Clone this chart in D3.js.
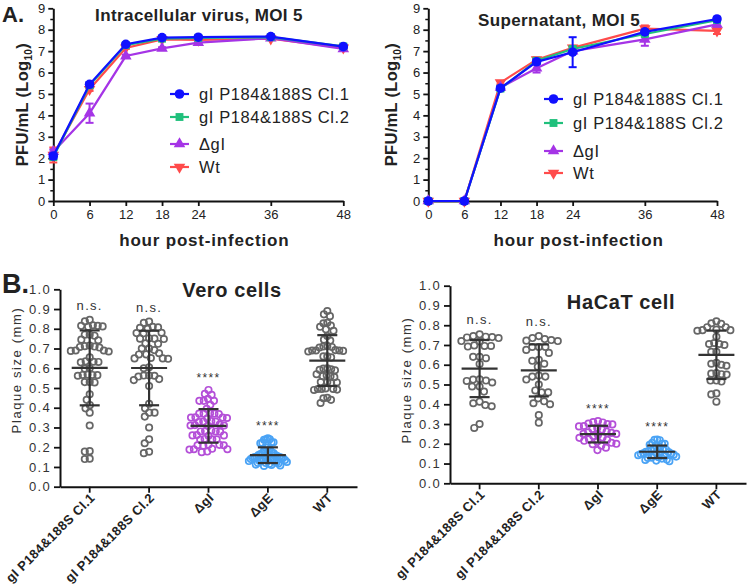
<!DOCTYPE html>
<html><head><meta charset="utf-8">
<script src="https://cdn.jsdelivr.net/npm/d3@7"></script>
<style>body{margin:0;background:#fff}svg{display:block;font-family:"Liberation Sans",Arial,sans-serif}</style>
</head><body><svg id="c" width="750" height="586"></svg>
<script>
// ---------- DATA ----------
const hours = [0, 6, 12, 18, 24, 36, 48];
const hourTicks = [0, 6, 12, 18, 24, 36, 48];
const logTicks = [0, 1, 2, 3, 4, 5, 6, 7, 8, 9];
const seriesNames = ["gI P184&188S Cl.1", "gI P184&188S Cl.2", "\u0394gI", "Wt"];

// Intracellular virus, MOI 5 (log10 PFU/mL)
const intraCl1 = [2.10, 5.45, 7.32, 7.63, 7.65, 7.68, 7.21];
const intraCl2 = [2.05, 5.40, 7.28, 7.58, 7.62, 7.65, 7.22];
const intraDgI = [2.30, 4.10, 6.77, 7.13, 7.40, 7.60, 7.10];
const intraWt  = [2.15, 5.22, 7.15, 7.55, 7.52, 7.58, 7.15];
const intraErrCl1 = [0.12, 0.10, 0.06, 0.05, 0.05, 0.05, 0.06];
const intraErrCl2 = [0.10, 0.08, 0.05, 0.05, 0.05, 0.05, 0.06];
const intraErrDgI = [0.10, 0.45, 0.06, 0.05, 0.05, 0.05, 0.06];
const intraErrWt  = [0.35, 0.08, 0.05, 0.05, 0.05, 0.05, 0.06];

// Supernatant, MOI 5
const supCl1 = [0, 0, 5.27, 6.50, 6.95, 7.90, 8.50];
const supCl2 = [0, 0, 5.25, 6.55, 7.10, 7.80, 8.45];
const supDgI = [0, 0, 5.30, 6.20, 7.00, 7.55, 8.25];
const supWt  = [0, 0, 5.53, 6.60, 7.15, 8.05, 7.95];
const supErrCl1 = [0, 0, 0.08, 0.10, 0.70, 0.10, 0.08];
const supErrCl2 = [0, 0, 0.08, 0.10, 0.10, 0.10, 0.08];
const supErrDgI = [0, 0, 0.08, 0.20, 0.10, 0.30, 0.10];
const supErrWt  = [0, 0, 0.08, 0.10, 0.10, 0.15, 0.15];

// Plaque sizes (mm)
const plaqueCats = ["gI P184&188S Cl.1", "gI P184&188S Cl.2", "\u0394gI", "\u0394gE", "WT"];
const plaqueTicks = [0, 0.1, 0.2, 0.3, 0.4, 0.5, 0.6, 0.7, 0.8, 0.9, 1.0];
const signif = ["n.s.", "n.s.", "****", "****", ""];

const veroCl1 = [0.845,0.838,0.815,0.815,0.812,0.818,0.81,0.77,0.77,0.765,0.745,0.742,0.712,0.71,0.715,0.708,0.705,0.69,0.688,0.685,0.69,0.655,0.633,0.63,0.635,0.632,0.60,0.598,0.566,0.565,0.568,0.562,0.566,0.53,0.53,0.528,0.468,0.44,0.413,0.397,0.375,0.31,0.18,0.178,0.14,0.142];
const veroCl2 = [0.836,0.83,0.81,0.805,0.80,0.807,0.777,0.778,0.78,0.75,0.752,0.748,0.75,0.726,0.724,0.70,0.70,0.692,0.676,0.67,0.67,0.65,0.652,0.648,0.65,0.60,0.605,0.563,0.562,0.558,0.563,0.54,0.545,0.51,0.42,0.397,0.375,0.375,0.355,0.30,0.24,0.22,0.177,0.17];
const veroDgI = [0.49,0.47,0.465,0.445,0.435,0.435,0.435,0.415,0.395,0.37,0.37,0.37,0.372,0.368,0.35,0.352,0.348,0.35,0.345,0.33,0.332,0.328,0.33,0.31,0.312,0.308,0.31,0.315,0.28,0.282,0.278,0.28,0.285,0.26,0.262,0.258,0.26,0.24,0.242,0.238,0.24,0.21,0.212,0.208,0.21,0.212,0.19,0.192,0.188,0.19,0.175,0.178];
const veroDgE = [0.245,0.24,0.24,0.238,0.225,0.225,0.222,0.22,0.2,0.198,0.19,0.185,0.175,0.17,0.17,0.168,0.165,0.16,0.16,0.158,0.155,0.155,0.152,0.15,0.15,0.148,0.145,0.145,0.143,0.14,0.14,0.138,0.135,0.135,0.132,0.13,0.13,0.128,0.125,0.122,0.12,0.12,0.118,0.115,0.112,0.11,0.108,0.105];
const veroWT  = [0.89,0.873,0.864,0.83,0.828,0.816,0.81,0.797,0.79,0.763,0.745,0.74,0.71,0.712,0.705,0.708,0.69,0.69,0.688,0.692,0.685,0.69,0.66,0.655,0.66,0.6,0.598,0.59,0.592,0.595,0.57,0.56,0.565,0.555,0.56,0.53,0.525,0.53,0.528,0.495,0.495,0.49,0.492,0.495,0.498,0.448,0.424,0.44,0.45];

const hacatCl1 = [0.754,0.745,0.74,0.738,0.742,0.735,0.72,0.718,0.695,0.695,0.692,0.698,0.633,0.64,0.64,0.604,0.526,0.518,0.52,0.51,0.525,0.49,0.464,0.49,0.413,0.396,0.39,0.405,0.28,0.3];
const hacatCl2 = [0.745,0.735,0.725,0.72,0.722,0.73,0.69,0.675,0.66,0.69,0.69,0.62,0.59,0.605,0.625,0.54,0.525,0.5,0.54,0.545,0.47,0.46,0.46,0.43,0.405,0.4,0.415,0.307,0.345];
const hacatDgI = [0.315,0.31,0.308,0.302,0.3,0.298,0.29,0.288,0.28,0.275,0.272,0.262,0.258,0.255,0.25,0.25,0.245,0.24,0.232,0.23,0.222,0.22,0.215,0.21,0.205,0.2,0.198,0.19,0.18,0.168];
const hacatDgE = [0.222,0.22,0.218,0.205,0.2,0.2,0.195,0.19,0.178,0.175,0.17,0.168,0.165,0.162,0.16,0.158,0.155,0.155,0.152,0.15,0.148,0.145,0.142,0.14,0.138,0.135,0.132,0.13,0.128,0.125,0.12,0.118,0.115,0.112];
const hacatWT  = [0.82,0.81,0.807,0.79,0.79,0.775,0.775,0.772,0.778,0.742,0.705,0.705,0.7,0.71,0.665,0.665,0.6,0.595,0.605,0.61,0.555,0.55,0.558,0.552,0.52,0.52,0.515,0.45,0.455,0.413];

// ---------- STYLE ----------
const lineColors = ["#1010ff", "#20c07c", "#a534e6", "#ff4b4b"];
const lineSymbols = [d3.symbolCircle, d3.symbolSquare, d3.symbolTriangle, d3.symbolTriangle];
const symSizes = [72, 62, 58, 58];
const symRot = [0, 0, 0, 180];
const dotColors = ["#666666", "#666666", "#b44fd8", "#4aa3f5", "#666666"];
const barColor = "#333333";

const svg = d3.select("#c");

// ---------- LINE PANELS ----------
function linePanel(o) {
  const g = svg.append("g");
  const x = d3.scaleLinear().domain([0, 48]).range([o.x0, o.x1]);
  const y = d3.scaleLinear().domain([0, 9]).range([o.yB, o.yT]);
  // minor ticks on y
  g.append("g").attr("transform", `translate(${o.x0},0)`)
    .call(d3.axisLeft(y).tickValues(d3.range(0.5, 9, 1)).tickSize(3).tickFormat(""))
    .call(a => a.select(".domain").remove())
    .selectAll("line").attr("stroke", "#111").attr("stroke-width", 1.5);
  const ya = g.append("g").attr("transform", `translate(${o.x0},0)`)
    .call(d3.axisLeft(y).tickValues(logTicks).tickSize(5).tickPadding(3).tickSizeOuter(0));
  const xa = g.append("g").attr("transform", `translate(0,${o.yB})`)
    .call(d3.axisBottom(x).tickValues(hourTicks).tickSize(5).tickPadding(4).tickSizeOuter(0));
  [ya, xa].forEach(a => {
    a.select(".domain").attr("stroke", "#111").attr("stroke-width", 2);
    a.selectAll(".tick line").attr("stroke", "#111").attr("stroke-width", 1.8);
    a.selectAll("text").attr("font-size", 13).attr("fill", "#222")
      .attr("font-family", "'Liberation Sans',Arial,sans-serif");
  });
  const order = [3, 2, 1, 0];
  const line = d3.line().x((d, i) => x(hours[i])).y(d => y(d));
  order.forEach(s => {
    const vals = o.data[s], err = o.err[s], c = lineColors[s];
    const sg = g.append("g");
    sg.append("path").attr("d", line(vals)).attr("fill", "none").attr("stroke", c).attr("stroke-width", 2.2);
    vals.forEach((v, i) => {
      const e = err[i];
      if (e > 0) {
        const cx = x(hours[i]);
        sg.append("line").attr("x1", cx).attr("x2", cx).attr("y1", y(v - e)).attr("y2", y(v + e)).attr("stroke", c).attr("stroke-width", 2);
        [v - e, v + e].forEach(t => sg.append("line").attr("x1", cx - 4).attr("x2", cx + 4).attr("y1", y(t)).attr("y2", y(t)).attr("stroke", c).attr("stroke-width", 2));
      }
      sg.append("path").attr("d", d3.symbol(lineSymbols[s], symSizes[s])())
        .attr("transform", `translate(${x(hours[i])},${y(v)}) rotate(${symRot[s]})`).attr("fill", c);
    });
  });
  // legend
  seriesNames.forEach((n, s) => {
    const ly = o.legY[s];
    g.append("line").attr("x1", o.legX).attr("x2", o.legX + 19).attr("y1", ly).attr("y2", ly).attr("stroke", lineColors[s]).attr("stroke-width", 2.2);
    g.append("path").attr("d", d3.symbol(lineSymbols[s], symSizes[s])())
      .attr("transform", `translate(${o.legX + 9.5},${ly}) rotate(${symRot[s]})`).attr("fill", lineColors[s]);
    g.append("text").attr("x", o.legX + 29).attr("y", ly + 6).text(n)
      .attr("font-size", 16.5).attr("letter-spacing", 0.6).attr("fill", "#222");
  });
  g.append("text").attr("x", o.titleX).attr("y", o.titleY).attr("text-anchor", "middle")
    .attr("font-size", 17).attr("font-weight", "bold").attr("letter-spacing", 0.4).attr("fill", "#222").text(o.title);
  g.append("text").attr("x", (o.x0 + o.x1) / 2 + 6).attr("y", 246).attr("text-anchor", "middle")
    .attr("font-size", 17).attr("font-weight", "bold").attr("letter-spacing", 0.8).attr("fill", "#222").text("hour post-infection");
  const yl = g.append("text").attr("transform", `translate(${o.ylabX},${(o.yT + o.yB) / 2}) rotate(-90)`)
    .attr("text-anchor", "middle").attr("font-size", 16.5).attr("font-weight", "bold").attr("fill", "#222").attr("letter-spacing", 0.3);
  yl.append("tspan").text("PFU/mL (Log");
  yl.append("tspan").attr("font-size", 10).attr("dy", 4).text("10");
  yl.append("tspan").attr("dy", -4).text(")");
}

linePanel({x0: 53.3, x1: 343.3, yT: 8.3, yB: 201, data: [intraCl1, intraCl2, intraDgI, intraWt],
  err: [intraErrCl1, intraErrCl2, intraErrDgI, intraErrWt], title: "Intracellular virus, MOI 5",
  titleX: 199, titleY: 21, legX: 170, legY: [94, 117, 144, 167], ylabX: 28});
linePanel({x0: 428.3, x1: 717, yT: 8.3, yB: 201, data: [supCl1, supCl2, supDgI, supWt],
  err: [supErrCl1, supErrCl2, supErrDgI, supErrWt], title: "Supernatant, MOI 5",
  titleX: 559, titleY: 26, legX: 544, legY: [99, 123, 151, 173], ylabX: 397});

svg.append("text").attr("x", 2).attr("y", 22).attr("font-size", 22).attr("font-weight", "bold").attr("fill", "#222").text("A.");
svg.append("text").attr("x", 2).attr("y", 293).attr("font-size", 27).attr("font-weight", "bold").attr("fill", "#222").text("B.");

// ---------- DOT PANELS ----------
function beeswarm(ys, D) {
  const idx = ys.map((v, i) => i).sort((a, b) => ys[a] - ys[b]);
  const placed = [];
  const xs = new Array(ys.length).fill(0);
  idx.forEach(i => {
    const yi = ys[i];
    const near = placed.filter(p => Math.abs(p.y - yi) < D);
    const cands = [0];
    near.forEach(p => { const dx = Math.sqrt(D * D - (p.y - yi) ** 2); cands.push(p.x + dx, p.x - dx); });
    cands.sort((a, b) => Math.abs(a) - Math.abs(b) || a - b);
    let xx = cands[0];
    for (const c of cands) {
      if (near.every(p => (p.x - c) ** 2 + (p.y - yi) ** 2 >= D * D - 0.01)) { xx = c; break; }
    }
    xs[i] = xx; placed.push({x: xx, y: yi});
  });
  return xs;
}

function dotPanel(o) {
  const g = svg.append("g");
  const x = d3.scaleBand().domain(plaqueCats).range([o.x0, o.x1]).padding(0);
  const y = d3.scaleLinear().domain([0, 1]).range([o.yB, o.yT]);
  const ya = g.append("g").attr("transform", `translate(${o.x0},0)`)
    .call(d3.axisLeft(y).tickValues(plaqueTicks).tickFormat(d3.format(".1f")).tickSize(6).tickPadding(3).tickSizeOuter(0));
  const xa = g.append("g").attr("transform", `translate(0,${o.yB})`)
    .call(d3.axisBottom(x).tickSize(6).tickSizeOuter(0).tickFormat(""));
  [ya, xa].forEach(a => {
    a.select(".domain").attr("stroke", "#111").attr("stroke-width", 2);
    a.selectAll(".tick line").attr("stroke", "#111").attr("stroke-width", 1.8);
  });
  ya.selectAll("text").attr("font-size", 13).attr("letter-spacing", 1.3).attr("fill", "#333")
    .attr("font-family", "'Liberation Sans',Arial,sans-serif");
  // category labels
  plaqueCats.forEach(c => {
    const cx = x(c) + x.bandwidth() / 2;
    g.append("text").attr("transform", `translate(${cx + 6},${o.yB + 12}) rotate(-45)`)
      .attr("text-anchor", "end").attr("font-size", 13).attr("font-weight", "bold").attr("letter-spacing", 0.4)
      .attr("fill", "#222").text(c);
  });
  o.data.forEach((vals, k) => {
    const cx = x(plaqueCats[k]) + x.bandwidth() / 2;
    const ys = vals.map(v => y(v));
    let xs = beeswarm(ys, 7.0);
    const m = d3.max(xs, Math.abs);
    if (m > 19) xs = xs.map(v => v * 19 / m);
    const col = dotColors[k];
    vals.forEach((v, i) => {
      g.append("circle").attr("cx", cx + xs[i]).attr("cy", ys[i]).attr("r", 3.2)
        .attr("fill", "none").attr("stroke", col).attr("stroke-width", 1.7);
    });
    const mean = d3.mean(vals), sd = d3.deviation(vals);
    const bg = g.append("g").attr("stroke", barColor).attr("stroke-width", 2.2);
    bg.append("line").attr("x1", cx - 18).attr("x2", cx + 18).attr("y1", y(mean)).attr("y2", y(mean));
    bg.append("line").attr("x1", cx).attr("x2", cx).attr("y1", y(mean - sd)).attr("y2", y(mean + sd));
    [mean - sd, mean + sd].forEach(t => bg.append("line").attr("x1", cx - 10).attr("x2", cx + 10).attr("y1", y(t)).attr("y2", y(t)));
    if (signif[k]) {
      g.append("text").attr("x", cx).attr("y", y(d3.max(vals)) - (signif[k] === "n.s." ? 10 : 8))
        .attr("text-anchor", "middle").attr("font-size", signif[k] === "n.s." ? 13 : 12)
        .attr("letter-spacing", 1.3).attr("fill", "#333").text(signif[k]);
    }
  });
  g.append("text").attr("transform", `translate(${o.ylabX},${o.ylabY}) rotate(-90)`).attr("text-anchor", "middle")
    .attr("font-size", 13).attr("letter-spacing", 1.6).attr("fill", "#333").text("Plaque size (mm)");
  g.append("text").attr("x", o.titleX).attr("y", o.titleY).attr("text-anchor", "middle")
    .attr("font-size", 20).attr("font-weight", "bold").attr("letter-spacing", 0.6).attr("fill", "#222").text(o.title);
}

dotPanel({x0: 60, x1: 357, yT: 289.3, yB: 486.7, data: [veroCl1, veroCl2, veroDgI, veroDgE, veroWT],
  title: "Vero cells", titleX: 232, titleY: 297, ylabX: 21, ylabY: 370});
dotPanel({x0: 450, x1: 746, yT: 285.7, yB: 483.3, data: [hacatCl1, hacatCl2, hacatDgI, hacatDgE, hacatWT],
  title: "HaCaT cell", titleX: 621, titleY: 309, ylabX: 411, ylabY: 380});
</script></body></html>
